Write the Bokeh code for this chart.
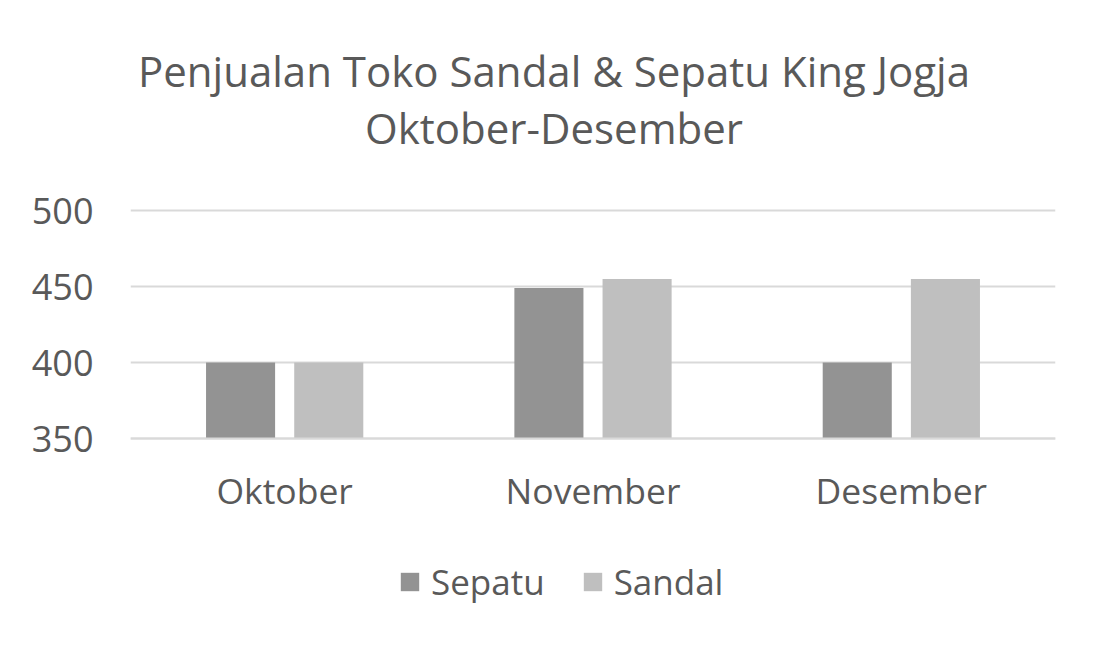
from bokeh.plotting import figure
from bokeh.models import ColumnDataSource, FactorRange, Legend, LegendItem, Label, Range1d, FixedTicker
from bokeh.transform import dodge
from bokeh.embed import file_html
from bokeh.resources import INLINE

months = ["Oktober", "November", "Desember"]
sepatu = [400, 449, 400]
sandal = [400, 455, 455]
y_ticks = [350, 400, 450, 500]
title_line1 = "Penjualan Toko Sandal & Sepatu King Jogja"
title_line2 = "Oktober-Desember"

FONT = "Open Sans"
TXT = "#595959"
C_SEPATU = "#939393"
C_SANDAL = "#bfbfbf"
GRID = "#d9d9d9"

W, H = 1091, 636
# value axis: 350 at y=438px, 500 at y=210px (from top of canvas)
px_per_unit = (438 - 210) / (500 - 350)
y_lo = 350 - (H - 438) / px_per_unit
y_hi = 500 + 210 / px_per_unit

src = ColumnDataSource(dict(months=months, sepatu=sepatu, sandal=sandal))

p = figure(width=W, height=H, x_range=FactorRange(*months),
           y_range=Range1d(y_lo, y_hi), output_backend="svg", toolbar_location=None,
           min_border_left=130, min_border_right=36, min_border_top=0, min_border_bottom=0)
p.title = None
p.outline_line_color = None
p.background_fill_color = "white"
p.border_fill_color = "white"

r1 = p.vbar(x=dodge("months", -0.143, range=p.x_range), top="sepatu", bottom=350,
            width=0.224, source=src, fill_color=C_SEPATU, line_color=None)
r2 = p.vbar(x=dodge("months", 0.143, range=p.x_range), top="sandal", bottom=350,
            width=0.224, source=src, fill_color=C_SANDAL, line_color=None)

p.yaxis.ticker = FixedTicker(ticks=y_ticks)
p.yaxis.axis_line_color = None
p.yaxis.major_tick_line_color = None
p.yaxis.minor_tick_line_color = None
p.yaxis.major_label_text_font = FONT
p.yaxis.major_label_text_font_size = "36px"
p.yaxis.major_label_text_color = TXT
p.yaxis.major_label_standoff = 31

p.xaxis.fixed_location = 350
p.xaxis.axis_line_color = GRID
p.xaxis.axis_line_width = 2
p.xaxis.major_tick_line_color = None
p.xaxis.minor_tick_line_color = None
p.xaxis.major_label_text_font = FONT
p.xaxis.major_label_text_font_size = "35.5px"
p.xaxis.major_label_text_color = TXT
p.xaxis.major_label_standoff = 21

p.xgrid.grid_line_color = None
p.ygrid.grid_line_color = GRID
p.ygrid.grid_line_width = 2

for txt, yy in ((title_line1, H - 70), (title_line2, H - 127)):
    p.add_layout(Label(x=553.5 - 130, y=yy, x_units="screen", y_units="screen", text=txt,
                       text_align="center", text_baseline="middle", text_font=FONT,
                       text_font_size="42px", text_color=TXT))

legend = Legend(items=[LegendItem(label="Sepatu", renderers=[r1]),
                       LegendItem(label="Sandal", renderers=[r2])],
                orientation="horizontal", location=(268, H - 605),
                label_text_font=FONT, label_text_font_size="35px", label_text_color=TXT,
                glyph_width=23, glyph_height=23, label_height=24, label_standoff=10, spacing=36,
                padding=0, margin=0, border_line_color=None, background_fill_alpha=0)
p.add_layout(legend, "center")

open("out.html", "w").write(file_html(p, INLINE))
